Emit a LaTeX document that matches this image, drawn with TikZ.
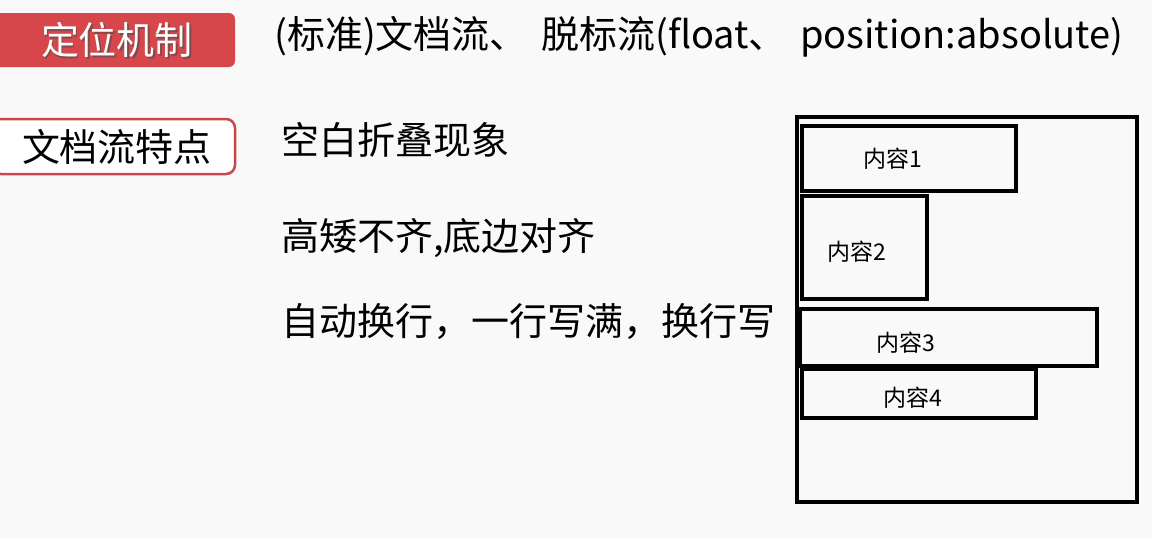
\documentclass[tikz,border=0pt]{standalone}
\usepackage{fontspec}
\setmainfont{Noto Sans CJK SC}
\definecolor{bgc}{HTML}{F9F9F9}
\definecolor{labred}{HTML}{D6464B}
\definecolor{edgered}{HTML}{C9474C}
\tikzset{
  bigtxt/.style={font=\fontsize{38}{41}\selectfont, inner sep=0pt, text=black},
  smalltxt/.style={font=\fontsize{23}{25}\selectfont, inner sep=0pt, text=black},
  flowbox/.style={draw=black, line width=3.5pt},
}
\begin{document}
\begin{tikzpicture}[x=1pt,y=-1pt]
\fill[bgc] (0,0) rectangle (1152,538);
\useasboundingbox (0,0) rectangle (1152,538);
% labels
\fill[labred, rounded corners=6pt] (-8,13) rectangle (235,67);
\node[bigtxt, text=black!70, opacity=0.6] (l1s) at (118.5,41.5) {定位机制};
\node[bigtxt, text=white] (l1) at (117,40) {定位机制};
\draw[edgered, line width=2.5pt, fill=white, rounded corners=9pt] (-8,119) rectangle (235,174);
\node[bigtxt] (l2) at (117,147) {文档流特点};
% texts
\node[bigtxt, anchor=west] (t0) at (274,37) {(标准)文档流、\hspace{0.35em}脱标流(float、\hspace{0.35em}position:absolute)};
\node[bigtxt, anchor=west] (t1) at (281,140) {空白折叠现象};
\node[bigtxt, anchor=west] (t2) at (281,238) {高矮不齐,底边对齐};
\node[bigtxt, anchor=west] (t3) at (281,322) {自动换行，一行写满，换行写};
% boxes
\draw[flowbox] (797,117) rectangle (1137,502);
\draw[flowbox] (802,126) rectangle (1016,191);
\draw[flowbox] (802,196) rectangle (927,299);
\draw[flowbox] (800,309) rectangle (1097,366);
\draw[flowbox] (802,369) rectangle (1036,418);
\node[smalltxt] (c1) at (893,159) {内容1};
\node[smalltxt] (c2) at (857,252) {内容2};
\node[smalltxt] (c3) at (906,343) {内容3};
\node[smalltxt] (c4) at (913,398) {内容4};
\end{tikzpicture}
\end{document}
